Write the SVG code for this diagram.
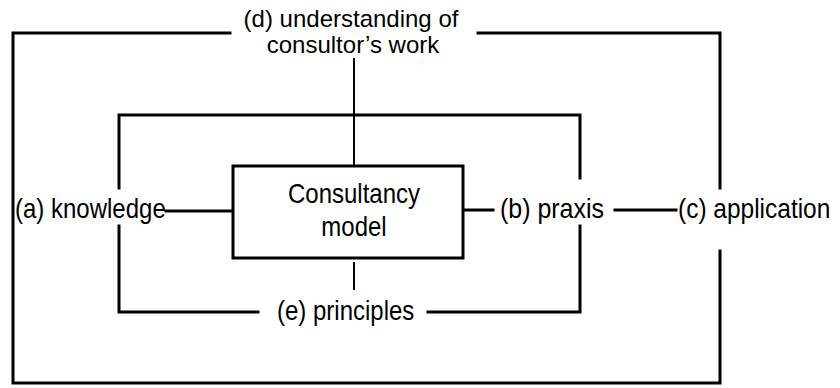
<svg xmlns="http://www.w3.org/2000/svg" width="840" height="388" viewBox="0 0 840 388">
<style>
.t{font-family:"Liberation Sans",Arial,sans-serif;font-size:24px;fill:#000}
.c{text-anchor:middle}
.frame{fill:none;stroke:#000;stroke-width:3;stroke-linecap:square}
.thin{fill:none;stroke:#000;stroke-width:2}
.box{fill:#fff;stroke:#000;stroke-width:3}
</style>
<rect width="840" height="388" fill="#fff"/>
<g id="connectors">
  <path class="frame" d="M230,33 H13 V383 H720 V251 M720,188 V33 H478"/>
  <path class="frame" d="M258,312 H119 V226 M119,188 V115 H580 V178 M580,226 V312 H428"/>
  <path class="thin" d="M354,58 V166"/>
  <path class="thin" d="M354,262 V290"/>
  <path class="frame" d="M166,211 H233"/>
  <path class="frame" d="M463,210 H493"/>
  <path class="frame" d="M615,210 H676"/>
</g>
<g id="model">
  <rect class="box" x="233" y="166" width="230" height="92"/>
  <text class="t c" transform="translate(354,203) scale(1,1.15)">Consultancy</text>
  <text class="t c" transform="translate(354,236) scale(1,1.15)">model</text>
</g>
<g id="d">
  <text class="t c" x="351" y="27">(d) understanding of</text>
  <text class="t c" x="353" y="53">consultor’s work</text>
</g>
<g id="a"><text class="t" transform="translate(15,218) scale(1,1.15)">(a) knowledge</text></g>
<g id="b"><text class="t" transform="translate(500,218) scale(1.04,1.15)">(b) praxis</text></g>
<g id="c"><text class="t" transform="translate(678,218) scale(1.02,1.15)">(c) application</text></g>
<g id="e"><text class="t" transform="translate(277,320) scale(1,1.15)">(e) principles</text></g>
</svg>
